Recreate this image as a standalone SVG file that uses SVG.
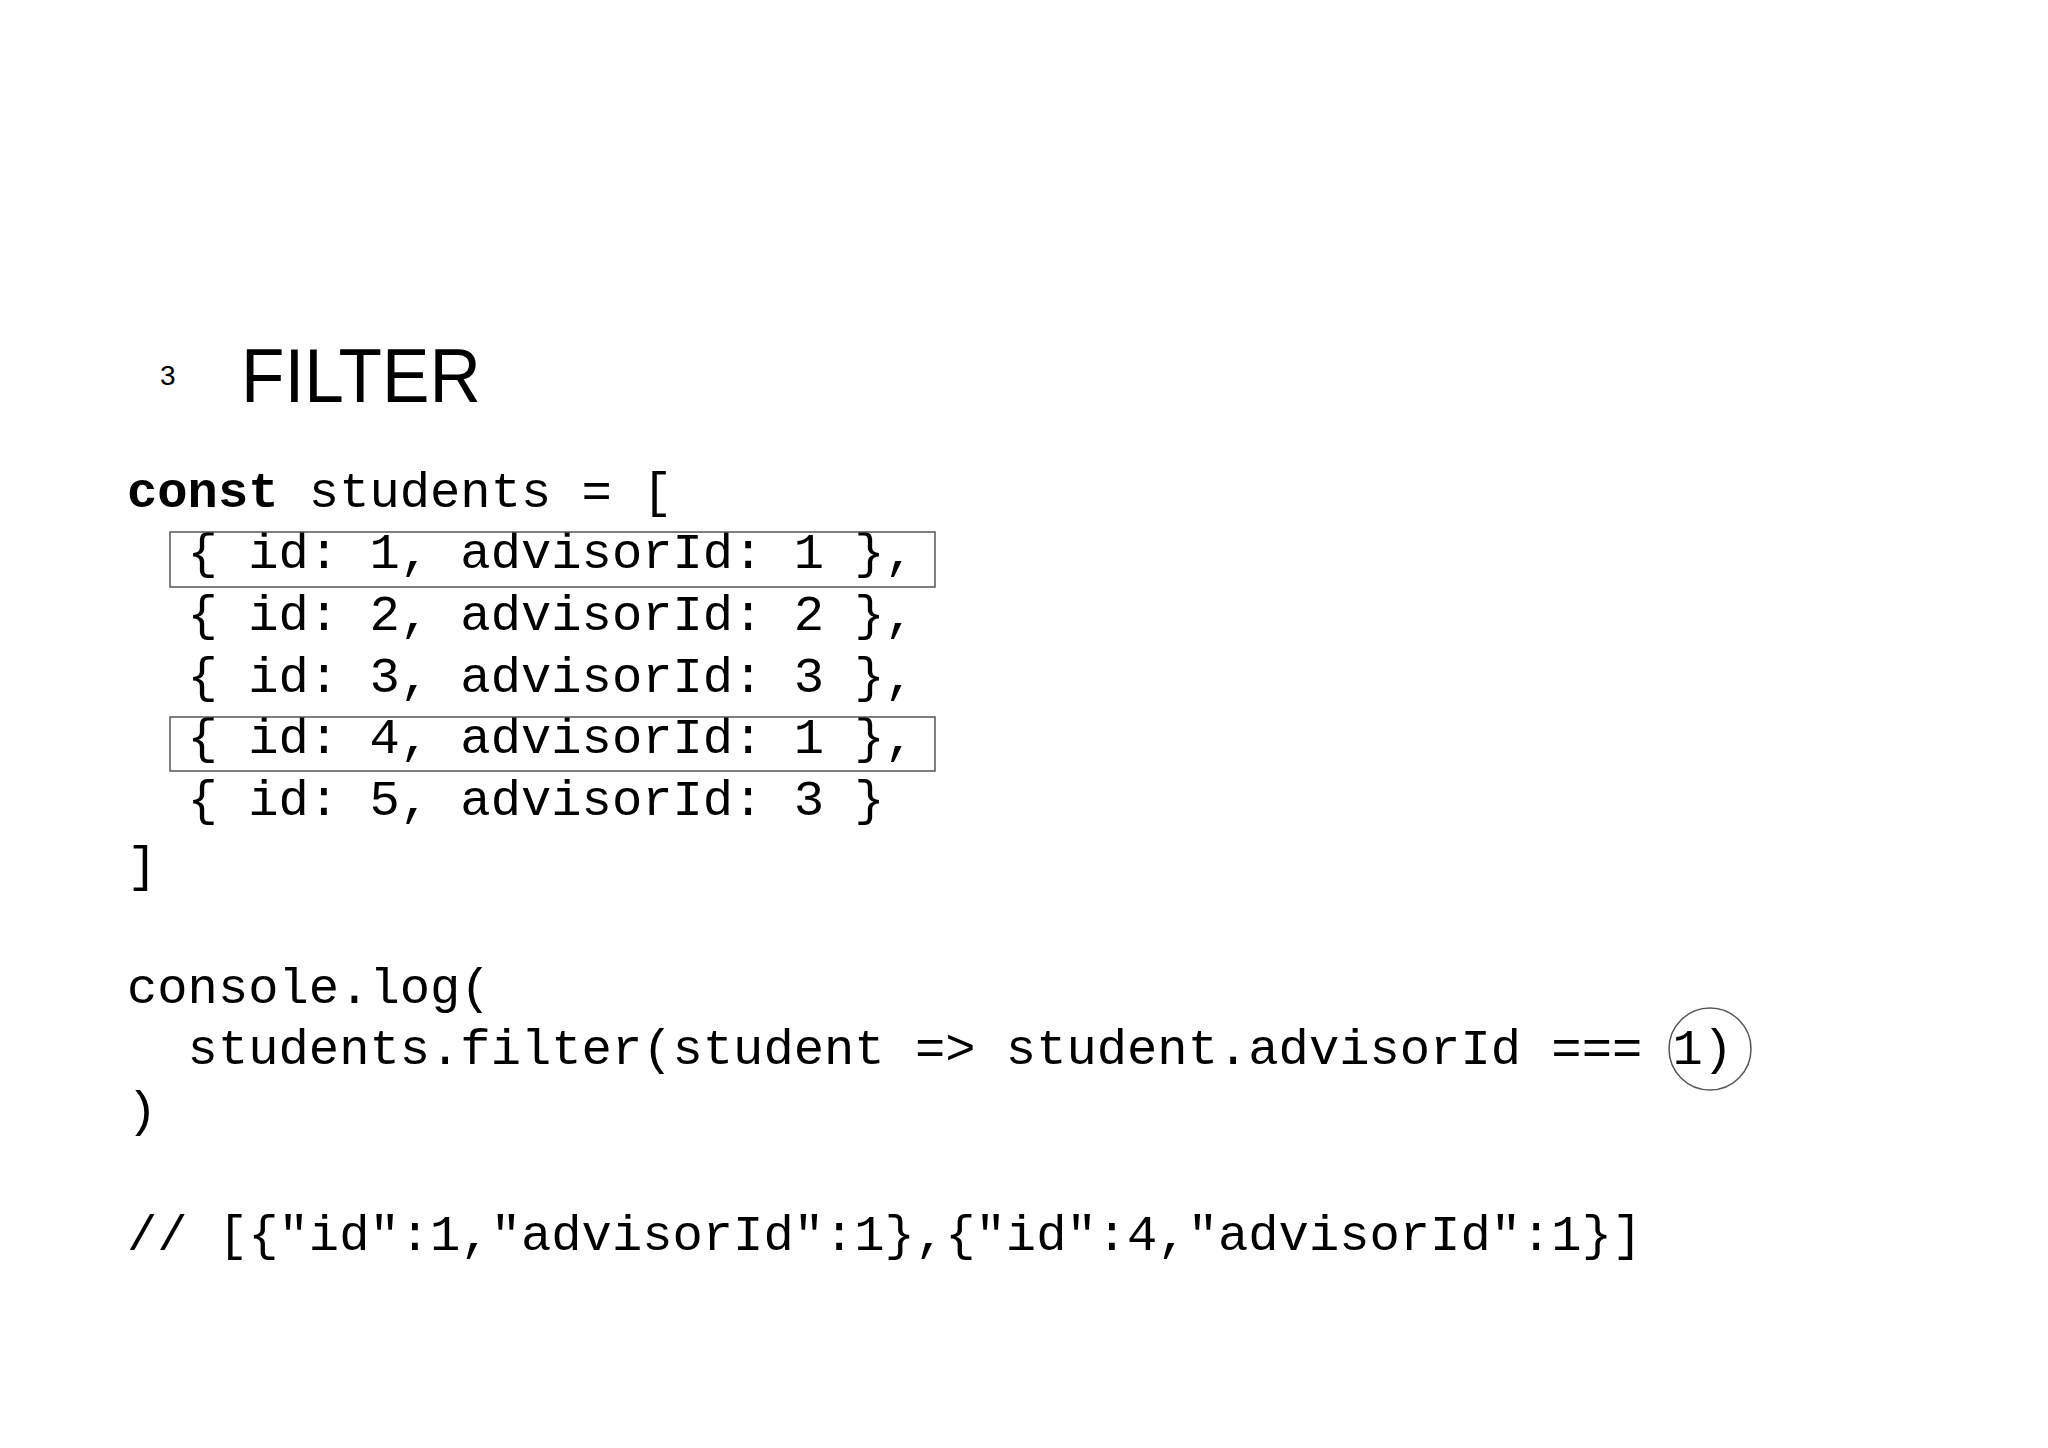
<svg xmlns="http://www.w3.org/2000/svg" width="2048" height="1448" viewBox="0 0 2048 1448">
<style>
.c{font-family:"Liberation Mono","Courier New",monospace;font-size:50.5px;fill:#000;white-space:pre}
.b{stroke:#555;stroke-width:1.5;fill:none}
</style>
<rect width="2048" height="1448" fill="#fff"/>
<g id="title">
<text x="160" y="385" font-family="Liberation Sans,Arial,sans-serif" font-size="28">3</text>
<text x="241" y="402" font-family="Liberation Sans,Arial,sans-serif" font-size="76" textLength="240" lengthAdjust="spacingAndGlyphs">FILTER</text>
</g>
<g id="code">
<text class="c" x="127" y="507" xml:space="preserve"><tspan font-weight="bold">const</tspan> students = [</text>
<text class="c" x="127" y="568" xml:space="preserve">  { id: 1, advisorId: 1 },</text>
<text class="c" x="127" y="630" xml:space="preserve">  { id: 2, advisorId: 2 },</text>
<text class="c" x="127" y="692" xml:space="preserve">  { id: 3, advisorId: 3 },</text>
<text class="c" x="127" y="753" xml:space="preserve">  { id: 4, advisorId: 1 },</text>
<text class="c" x="127" y="815" xml:space="preserve">  { id: 5, advisorId: 3 }</text>
<text class="c" x="127" y="881">]</text>
<text class="c" x="127" y="1003">console.log(</text>
<text class="c" x="127" y="1064" xml:space="preserve">  students.filter(student =&gt; student.advisorId === 1)</text>
<text class="c" x="127" y="1126">)</text>
<text class="c" x="127" y="1250">// [{"id":1,"advisorId":1},{"id":4,"advisorId":1}]</text>
</g>
<g id="highlights">
<rect class="b" x="170" y="532" width="765" height="55"/>
<rect class="b" x="170" y="717" width="765" height="54"/>
<circle class="b" cx="1710" cy="1049" r="41"/>
</g>
</svg>
